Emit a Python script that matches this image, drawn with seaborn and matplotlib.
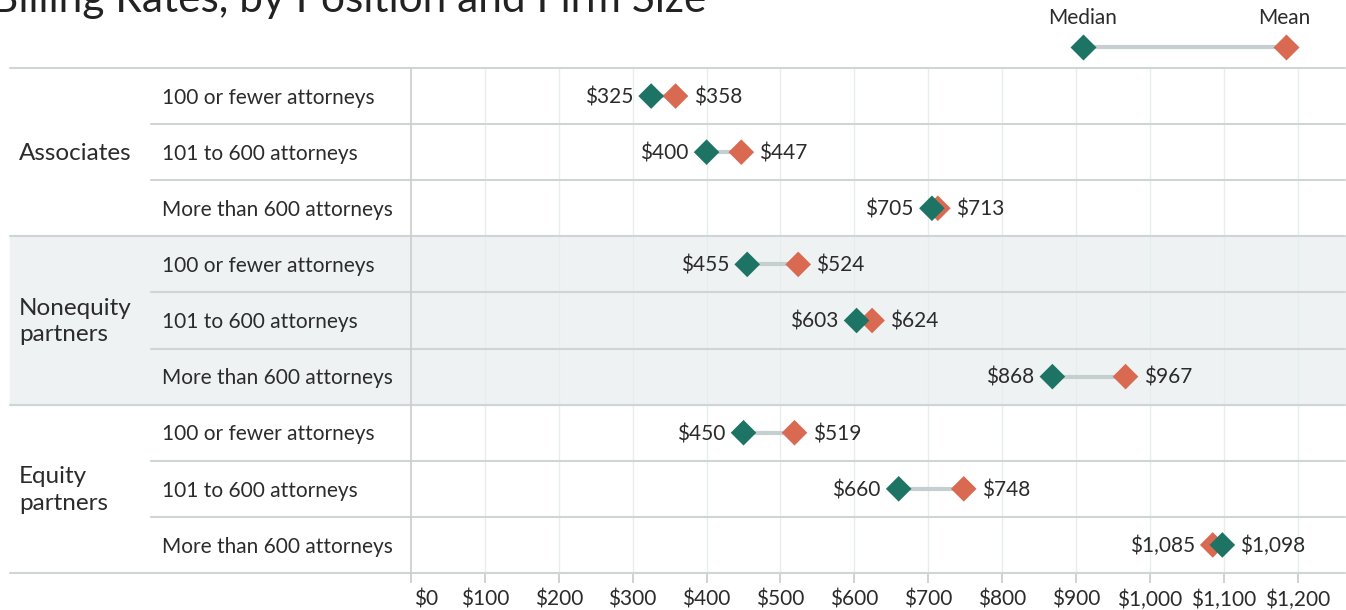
import numpy as np
import pandas as pd
import matplotlib.pyplot as plt
import seaborn as sns
from matplotlib.transforms import blended_transform_factory, offset_copy
from matplotlib.patches import Rectangle

positions = ["Associates", "Nonequity\npartners", "Equity\npartners"]
firm_sizes = ["100 or fewer attorneys", "101 to 600 attorneys", "More than 600 attorneys"]
median_rate = [325, 400, 705, 455, 603, 868, 450, 660, 1098]
mean_rate = [358, 447, 713, 524, 624, 967, 519, 748, 1085]
x_ticks = [0, 100, 200, 300, 400, 500, 600, 700, 800, 900, 1000, 1100, 1200]

MEDIAN_C = "#1d7464"
MEAN_C = "#da6951"
LINE_C = "#c6cfd0"
RULE_C = "#cfd4d4"
TEXT_C = "#2b2b2b"

sns.set_theme(style="white")
plt.rcParams["font.family"] = ["Lato", "DejaVu Sans"]

W, H = 1346, 610
fig = plt.figure(figsize=(W / 100, H / 100), dpi=100)
ax = fig.add_axes([411 / W, (H - 573) / H, (1345 - 411) / W, (573 - 68) / H])

rows = len(median_rate)
df = pd.DataFrame({
    "row": np.arange(rows),
    "median": median_rate,
    "mean": mean_rate,
})

ax.set_xlim(0, 1264)
ax.set_ylim(rows - 0.5, -0.5)

# grid
for t in x_ticks[1:]:
    ax.axvline(t, color="#e7eded", lw=1, zorder=0)

# connectors
ax.hlines(df["row"], df[["median", "mean"]].min(axis=1), df[["median", "mean"]].max(axis=1),
          color=LINE_C, lw=3, zorder=2)

sns.scatterplot(data=df, x="median", y="row", marker="D", s=170, color=MEDIAN_C,
                edgecolor="none", zorder=4, ax=ax, legend=False)
sns.scatterplot(data=df, x="mean", y="row", marker="D", s=170, color=MEAN_C,
                edgecolor="none", zorder=3, ax=ax, legend=False)

for r in range(rows):
    lo, hi = sorted([median_rate[r], mean_rate[r]])
    ax.annotate(f"${lo:,}", (lo, r), xytext=(-13, -1), textcoords="offset points",
                ha="right", va="center", fontsize=15, color=TEXT_C)
    ax.annotate(f"${hi:,}", (hi, r), xytext=(13, -1), textcoords="offset points",
                ha="left", va="center", fontsize=15, color=TEXT_C)

# left label area
tr = blended_transform_factory(fig.transFigure, ax.transData)
x_left, x_sub, x_right = 10 / W, 151 / W, 1345 / W
ax.add_patch(Rectangle((x_left, 2.5), x_right - x_left, 3, transform=tr,
                       color="#eef2f2", zorder=-1, clip_on=False))
for b in range(rows + 1):
    y = b - 0.5
    x0 = x_left if b % 3 == 0 else x_sub
    ax.plot([x0, x_right], [y, y], transform=tr, color=RULE_C, lw=1.5,
            clip_on=False, zorder=1)

for g, name in enumerate(positions):
    ax.text(19 / W, g * 3 + 1.02, name, transform=tr, ha="left", va="center",
            fontsize=17.5, color=TEXT_C, linespacing=1.32)
    for i, s in enumerate(firm_sizes):
        ax.text(162 / W, g * 3 + i + 0.03, s, transform=tr, ha="left", va="center",
                fontsize=15, color=TEXT_C)

ax.set_xticks(x_ticks)
ax.set_xticklabels([f"${t:,}" for t in x_ticks], fontsize=15, color=TEXT_C)
ax.tick_params(axis="x", bottom=True, length=7, color="#cccccc", pad=5)
first = ax.get_xticklabels()[0]
first.set_horizontalalignment("left")
first.set_transform(offset_copy(first.get_transform(), fig=fig, x=3, y=0, units="dots"))
ax.set_yticks([])
ax.set_xlabel("")
ax.set_ylabel("")
for sp in ["top", "right", "bottom"]:
    ax.spines[sp].set_visible(False)
ax.spines["left"].set_color("#cccccc")
ax.spines["left"].set_linewidth(1.2)

# legend
fig.text(1083 / W, 1 - 18 / H, "Median", ha="center", va="center", fontsize=15, color=TEXT_C)
fig.text(1284 / W, 1 - 18 / H, "Mean", ha="center", va="center", fontsize=15, color=TEXT_C)
fig.add_artist(plt.Line2D([1083 / W, 1286 / W], [1 - 47 / H] * 2, color=LINE_C, lw=3))
fig.add_artist(plt.Line2D([1083 / W], [1 - 47 / H], marker="D", ms=13, color=MEDIAN_C, mec="none"))
fig.add_artist(plt.Line2D([1286 / W], [1 - 47 / H], marker="D", ms=13, color=MEAN_C, mec="none"))

# title (clipped at top as in the source)
fig.text(-9 / W, 1 - 12 / H, "Billing Rates, by Position and Firm Size", ha="left",
         va="baseline", fontsize=30.5, color="#222222")

fig.savefig("out.png", dpi=100)
